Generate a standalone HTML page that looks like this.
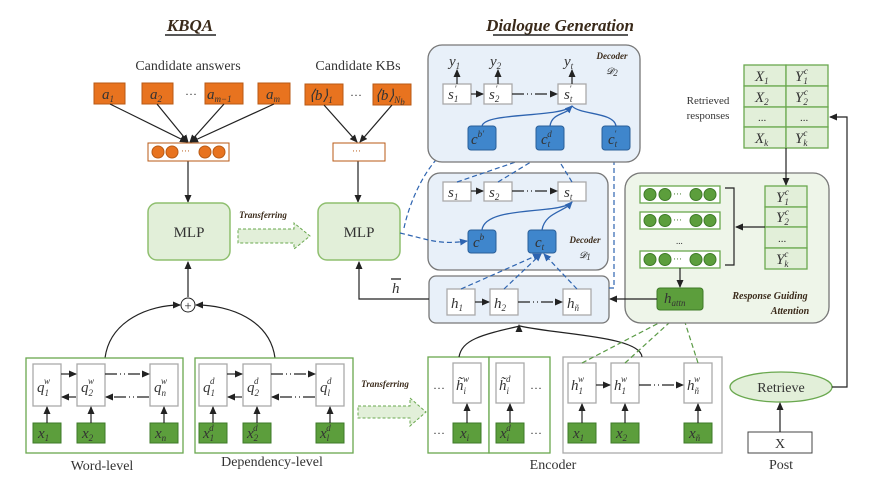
<!DOCTYPE html>
<html><head><meta charset="utf-8"><style>
html,body{margin:0;padding:0;background:#fff;}
svg{display:block;}
text{font-family:"Liberation Serif",serif;}
.m{font-style:italic;fill:#333;font-size:15px;}
.ms{font-style:italic;fill:#333;font-size:9px;}
.bi{font-weight:bold;font-style:italic;fill:#3a2a1a;}
</style></head><body>
<svg width="875" height="496" viewBox="0 0 875 496" xmlns="http://www.w3.org/2000/svg">
<defs>
<marker id="a" markerWidth="8" markerHeight="8" refX="7" refY="4" orient="auto" markerUnits="userSpaceOnUse"><path d="M0,0.5 L8,4 L0,7.5z" fill="#222"/></marker>
<marker id="ab" markerWidth="8" markerHeight="8" refX="7" refY="4" orient="auto" markerUnits="userSpaceOnUse"><path d="M0,0.5 L8,4 L0,7.5z" fill="#2e64b0"/></marker>
<marker id="ag" markerWidth="8" markerHeight="8" refX="7" refY="4" orient="auto" markerUnits="userSpaceOnUse"><path d="M0,0.5 L8,4 L0,7.5z" fill="#5a9a45"/></marker>
</defs>

<text x="190" y="31" text-anchor="middle" class="bi" font-size="17">KBQA</text>
<line x1="165" y1="35" x2="216" y2="35" stroke="#222" stroke-width="1.5"/>
<text x="560" y="31" text-anchor="middle" class="bi" font-size="17">Dialogue Generation</text>
<line x1="493" y1="35" x2="628" y2="35" stroke="#222" stroke-width="1.5"/>

<text x="188" y="70" text-anchor="middle" font-size="14" fill="#333">Candidate answers</text>
<g fill="#e8731f" stroke="#b85a15">
<rect x="94" y="83" width="31" height="21"/><rect x="142" y="83" width="31" height="21"/>
<rect x="205" y="83" width="38" height="21"/><rect x="258" y="83" width="32" height="21"/>
<rect x="305" y="84" width="38" height="21"/><rect x="373" y="84" width="38" height="21"/>
</g>
<text x="102" y="99" class="m">a<tspan class="ms" dy="3">1</tspan></text>
<text x="150" y="99" class="m">a<tspan class="ms" dy="3">2</tspan></text>
<text x="185" y="98" font-size="12" fill="#333">···</text>
<text x="207" y="99" class="m">a<tspan class="ms" dy="3">m−1</tspan></text>
<text x="266" y="99" class="m">a<tspan class="ms" dy="3">m</tspan></text>
<text x="358" y="70" text-anchor="middle" font-size="14" fill="#333">Candidate KBs</text>
<text x="309" y="100" class="m" font-size="14">⟨b⟩<tspan class="ms" dy="3">1</tspan></text>
<text x="350" y="99" font-size="12" fill="#333">···</text>
<text x="375" y="100" class="m" font-size="14">⟨b⟩<tspan class="ms" dy="3">N</tspan><tspan class="ms" font-size="6" dy="2">b</tspan></text>
<g stroke="#222" stroke-width="1.2" marker-end="url(#a)">
<line x1="110" y1="104" x2="187" y2="142"/><line x1="157" y1="104" x2="188" y2="142"/>
<line x1="224" y1="104" x2="190" y2="142"/><line x1="274" y1="104" x2="191" y2="142"/>
<line x1="324" y1="105" x2="357" y2="142"/><line x1="392" y1="105" x2="360" y2="142"/>
<line x1="188" y1="161" x2="188" y2="202"/><line x1="358" y1="161" x2="358" y2="202"/>
<line x1="188" y1="297" x2="188" y2="262"/>
</g>
<rect x="148" y="143" width="81" height="18" fill="#fff" stroke="#b85a15"/>
<g fill="#e8731f" stroke="#b85a15"><circle cx="158" cy="152" r="6"/><circle cx="172" cy="152" r="6"/><circle cx="205" cy="152" r="6"/><circle cx="219" cy="152" r="6"/>
<circle cx="344" cy="152" r="6"/><circle cx="373" cy="152" r="6"/></g>
<text x="181" y="154" font-size="9" fill="#b85a15">···</text>
<rect x="333" y="143" width="52" height="18" fill="#fff" stroke="#b85a15"/>
<text x="352" y="154" font-size="9" fill="#b85a15">···</text>

<rect x="148" y="203" width="82" height="57" rx="9" fill="#e2efd9" stroke="#8fbf6f" stroke-width="1.5"/>
<text x="189" y="237" text-anchor="middle" font-size="15" fill="#333">MLP</text>
<rect x="318" y="203" width="82" height="57" rx="9" fill="#e2efd9" stroke="#8fbf6f" stroke-width="1.5"/>
<text x="359" y="237" text-anchor="middle" font-size="15" fill="#333">MLP</text>
<text x="263" y="218" text-anchor="middle" class="bi" font-size="9" fill="#2a3a6a">Transferring</text>
<path d="M238,229 H294 V223 L310,236 L294,249 V243 H238 Z" fill="#e2efd9" stroke="#6aa84f" stroke-dasharray="3,2"/>

<circle cx="188" cy="305" r="7" fill="#fff" stroke="#222"/>
<text x="188" y="310" text-anchor="middle" font-size="13" fill="#222">+</text>
<path d="M105,358 C110,320 150,305 180,305" fill="none" stroke="#222" stroke-width="1.2" marker-end="url(#a)"/>
<path d="M275,358 C270,320 230,305 196,305" fill="none" stroke="#222" stroke-width="1.2" marker-end="url(#a)"/>

<rect x="26" y="358" width="157" height="95" fill="#fff" stroke="#6aa84f" stroke-width="1.3"/>
<rect x="195" y="358" width="158" height="95" fill="#fff" stroke="#6aa84f" stroke-width="1.3"/>
<g fill="#fff" stroke="#aaa" stroke-width="1.3">
<rect x="33" y="364" width="28" height="42"/><rect x="77" y="364" width="28" height="42"/><rect x="150" y="364" width="28" height="42"/>
<rect x="199" y="364" width="28" height="42"/><rect x="243" y="364" width="28" height="42"/><rect x="316" y="364" width="28" height="42"/>
</g>
<g fill="#5c9e3c" stroke="#3e7a28">
<rect x="33" y="423" width="28" height="20"/><rect x="77" y="423" width="28" height="20"/><rect x="150" y="423" width="28" height="20"/>
<rect x="199" y="423" width="28" height="20"/><rect x="243" y="423" width="28" height="20"/><rect x="316" y="423" width="28" height="20"/>
</g>
<text x="37" y="392" class="m">q<tspan class="ms" dy="4">1</tspan><tspan class="ms" dx="-5" dy="-12">w</tspan></text>
<text x="81" y="392" class="m">q<tspan class="ms" dy="4">2</tspan><tspan class="ms" dx="-5" dy="-12">w</tspan></text>
<text x="154" y="392" class="m">q<tspan class="ms" dy="4">n</tspan><tspan class="ms" dx="-5" dy="-12">w</tspan></text>
<text x="203" y="392" class="m">q<tspan class="ms" dy="4">1</tspan><tspan class="ms" dx="-5" dy="-12">d</tspan></text>
<text x="247" y="392" class="m">q<tspan class="ms" dy="4">2</tspan><tspan class="ms" dx="-5" dy="-12">d</tspan></text>
<text x="320" y="392" class="m">q<tspan class="ms" dy="4">l</tspan><tspan class="ms" dx="-3" dy="-12">d</tspan></text>
<text x="38" y="438" class="m">x<tspan class="ms" dy="3">1</tspan></text>
<text x="82" y="438" class="m">x<tspan class="ms" dy="3">2</tspan></text>
<text x="155" y="438" class="m">x<tspan class="ms" dy="3">n</tspan></text>
<text x="203" y="438" class="m">x<tspan class="ms" dy="3">1</tspan><tspan class="ms" dx="-5" dy="-10">d</tspan></text>
<text x="247" y="438" class="m">x<tspan class="ms" dy="3">2</tspan><tspan class="ms" dx="-5" dy="-10">d</tspan></text>
<text x="320" y="438" class="m">x<tspan class="ms" dy="3">l</tspan><tspan class="ms" dx="-3" dy="-10">d</tspan></text>
<g stroke="#222" stroke-width="1.2" marker-end="url(#a)">
<line x1="61" y1="374" x2="76" y2="374"/><line x1="76" y1="397" x2="62" y2="397"/>
<line x1="105" y1="374" x2="149" y2="374" stroke-dasharray="12,3,1,3,1,3"/><line x1="149" y1="397" x2="106" y2="397" stroke-dasharray="12,3,1,3,1,3"/>
<line x1="227" y1="374" x2="242" y2="374"/><line x1="242" y1="397" x2="228" y2="397"/>
<line x1="271" y1="374" x2="315" y2="374" stroke-dasharray="12,3,1,3,1,3"/><line x1="315" y1="397" x2="272" y2="397" stroke-dasharray="12,3,1,3,1,3"/>
<line x1="47" y1="423" x2="47" y2="407"/><line x1="91" y1="423" x2="91" y2="407"/><line x1="164" y1="423" x2="164" y2="407"/>
<line x1="213" y1="423" x2="213" y2="407"/><line x1="257" y1="423" x2="257" y2="407"/><line x1="330" y1="423" x2="330" y2="407"/>
</g>
<text x="102" y="470" text-anchor="middle" font-size="14" fill="#333">Word-level</text>
<text x="272" y="466" text-anchor="middle" font-size="14" fill="#333">Dependency-level</text>
<text x="385" y="387" text-anchor="middle" class="bi" font-size="9" fill="#2a3a6a">Transferring</text>
<path d="M358,406 H410 V398 L426,412 L410,426 V418 H358 Z" fill="#e2efd9" stroke="#6aa84f" stroke-dasharray="3,2"/>

<rect x="428" y="357" width="61" height="96" fill="#fff" stroke="#6aa84f" stroke-width="1.3"/>
<rect x="489" y="357" width="61" height="96" fill="#fff" stroke="#6aa84f" stroke-width="1.3"/>
<rect x="563" y="357" width="159" height="96" fill="#fff" stroke="#aaa" stroke-width="1.3"/>
<g fill="#fff" stroke="#aaa" stroke-width="1.3">
<rect x="453" y="363" width="28" height="40"/><rect x="496" y="363" width="28" height="40"/>
<rect x="568" y="363" width="28" height="40"/><rect x="611" y="363" width="28" height="40"/><rect x="684" y="363" width="28" height="40"/>
</g>
<g fill="#5c9e3c" stroke="#3e7a28">
<rect x="453" y="423" width="28" height="20"/><rect x="496" y="423" width="28" height="20"/>
<rect x="568" y="423" width="28" height="20"/><rect x="611" y="423" width="28" height="20"/><rect x="684" y="423" width="28" height="20"/>
</g>
<text x="433" y="392" font-size="12" fill="#333">···</text><text x="433" y="437" font-size="12" fill="#333">···</text>
<text x="530" y="392" font-size="12" fill="#333">···</text><text x="530" y="437" font-size="12" fill="#333">···</text>
<text x="456" y="390" class="m">h̃<tspan class="ms" dy="4">i</tspan><tspan class="ms" dx="-3" dy="-12">w</tspan></text>
<text x="499" y="390" class="m">h̃<tspan class="ms" dy="4">i</tspan><tspan class="ms" dx="-3" dy="-12">d</tspan></text>
<text x="571" y="390" class="m">h<tspan class="ms" dy="4">1</tspan><tspan class="ms" dx="-5" dy="-12">w</tspan></text>
<text x="614" y="390" class="m">h<tspan class="ms" dy="4">1</tspan><tspan class="ms" dx="-5" dy="-12">w</tspan></text>
<text x="687" y="390" class="m">h<tspan class="ms" dy="4">ñ</tspan><tspan class="ms" dx="-5" dy="-12">w</tspan></text>
<text x="460" y="438" class="m">x<tspan class="ms" dy="3">i</tspan></text>
<text x="500" y="438" class="m">x<tspan class="ms" dy="3">i</tspan><tspan class="ms" dx="-3" dy="-10">d</tspan></text>
<text x="573" y="438" class="m">x<tspan class="ms" dy="3">1</tspan></text>
<text x="616" y="438" class="m">x<tspan class="ms" dy="3">2</tspan></text>
<text x="689" y="438" class="m">x<tspan class="ms" dy="3">ñ</tspan></text>
<g stroke="#222" stroke-width="1.2" marker-end="url(#a)">
<line x1="467" y1="423" x2="467" y2="404"/><line x1="510" y1="423" x2="510" y2="404"/>
<line x1="582" y1="423" x2="582" y2="404"/><line x1="625" y1="423" x2="625" y2="404"/><line x1="698" y1="423" x2="698" y2="404"/>
<line x1="596" y1="385" x2="610" y2="385"/><line x1="639" y1="385" x2="683" y2="385" stroke-dasharray="12,3,1,3,1,3"/>
</g>
<text x="553" y="469" text-anchor="middle" font-size="14" fill="#333">Encoder</text>
<path d="M459,357 C462,340 480,335 520,326 C560,335 640,336 642,357" fill="none" stroke="#222" stroke-width="1.2"/>
<path d="M519,332 L519,325" stroke="#222" marker-end="url(#a)"/>
<g stroke="#5a9a45" stroke-width="1.2" stroke-dasharray="5,3" fill="none">
<line x1="582" y1="363" x2="678" y2="313" marker-end="url(#ag)"/>
<line x1="625" y1="363" x2="680" y2="313" marker-end="url(#ag)"/>
<line x1="698" y1="363" x2="682" y2="313" marker-end="url(#ag)"/>
</g>

<ellipse cx="781" cy="387" rx="51" ry="15" fill="#e2efd9" stroke="#6aa84f" stroke-width="1.3"/>
<text x="781" y="392" text-anchor="middle" font-size="14" fill="#333">Retrieve</text>
<rect x="748" y="432" width="64" height="21" fill="#fff" stroke="#444"/>
<text x="780" y="448" text-anchor="middle" font-size="14" fill="#333">X</text>
<text x="781" y="469" text-anchor="middle" font-size="14" fill="#333">Post</text>
<line x1="780" y1="432" x2="780" y2="403" stroke="#222" stroke-width="1.2" marker-end="url(#a)"/>
<path d="M832,387 H847 V117 H830" fill="none" stroke="#222" stroke-width="1.2" marker-end="url(#a)"/>

<text x="708" y="104" text-anchor="middle" font-size="11" fill="#333">Retrieved</text>
<text x="708" y="119" text-anchor="middle" font-size="11" fill="#333">responses</text>
<g fill="#e2efd9" stroke="#6aa84f" stroke-width="1.3">
<rect x="744" y="65" width="42" height="21"/><rect x="786" y="65" width="42" height="21"/>
<rect x="744" y="86" width="42" height="21"/><rect x="786" y="86" width="42" height="21"/>
<rect x="744" y="107" width="42" height="20"/><rect x="786" y="107" width="42" height="20"/>
<rect x="744" y="127" width="42" height="21"/><rect x="786" y="127" width="42" height="21"/>
</g>
<text x="755" y="81" class="m">X<tspan class="ms" dy="3">1</tspan></text><text x="795" y="81" class="m">Y<tspan class="ms" dy="3">1</tspan><tspan class="ms" dx="-4" dy="-10">c</tspan></text>
<text x="755" y="102" class="m">X<tspan class="ms" dy="3">2</tspan></text><text x="795" y="102" class="m">Y<tspan class="ms" dy="3">2</tspan><tspan class="ms" dx="-4" dy="-10">c</tspan></text>
<text x="758" y="121" font-size="11" fill="#333">...</text><text x="800" y="121" font-size="11" fill="#333">...</text>
<text x="755" y="143" class="m">X<tspan class="ms" dy="3">k</tspan></text><text x="795" y="143" class="m">Y<tspan class="ms" dy="3">k</tspan><tspan class="ms" dx="-4" dy="-10">c</tspan></text>

<rect x="625" y="173" width="204" height="150" rx="16" fill="#eef5e9" stroke="#777" stroke-width="1.3"/>
<line x1="786" y1="148" x2="786" y2="185" stroke="#222" stroke-width="1.2" marker-end="url(#a)"/>
<g fill="#e2efd9" stroke="#6aa84f" stroke-width="1.3">
<rect x="765" y="186" width="42" height="21"/><rect x="765" y="207" width="42" height="20"/>
<rect x="765" y="227" width="42" height="21"/><rect x="765" y="248" width="42" height="21"/>
<rect x="640" y="186" width="80" height="17" fill="#fff"/><rect x="640" y="212" width="80" height="17" fill="#fff"/><rect x="640" y="251" width="80" height="17" fill="#fff"/>
</g>
<text x="776" y="202" class="m">Y<tspan class="ms" dy="3">1</tspan><tspan class="ms" dx="-4" dy="-10">c</tspan></text>
<text x="776" y="222" class="m">Y<tspan class="ms" dy="3">2</tspan><tspan class="ms" dx="-4" dy="-10">c</tspan></text>
<text x="778" y="242" font-size="11" fill="#333">...</text>
<text x="776" y="264" class="m">Y<tspan class="ms" dy="3">k</tspan><tspan class="ms" dx="-4" dy="-10">c</tspan></text>
<g fill="#5c9e3c" stroke="#3e7a28">
<circle cx="650" cy="194.5" r="6"/><circle cx="665" cy="194.5" r="6"/><circle cx="696" cy="194.5" r="6"/><circle cx="710" cy="194.5" r="6"/>
<circle cx="650" cy="220.5" r="6"/><circle cx="665" cy="220.5" r="6"/><circle cx="696" cy="220.5" r="6"/><circle cx="710" cy="220.5" r="6"/>
<circle cx="650" cy="259.5" r="6"/><circle cx="665" cy="259.5" r="6"/><circle cx="696" cy="259.5" r="6"/><circle cx="710" cy="259.5" r="6"/>
</g>
<text x="673" y="197" font-size="9" fill="#3e7a28">···</text><text x="673" y="223" font-size="9" fill="#3e7a28">···</text><text x="673" y="262" font-size="9" fill="#3e7a28">···</text>
<text x="676" y="244" font-size="9" fill="#333">...</text>
<path d="M725,188 H734 V265 H725" fill="none" stroke="#222" stroke-width="1.2"/>
<line x1="765" y1="227" x2="736" y2="227" stroke="#222" stroke-width="1.2" marker-end="url(#a)"/>
<line x1="680" y1="268" x2="680" y2="287" stroke="#222" stroke-width="1.2" marker-end="url(#a)"/>
<rect x="657" y="288" width="46" height="22" rx="3" fill="#5c9e3c" stroke="#3e7a28"/>
<text x="664" y="303" class="m">h<tspan class="ms" dy="3">attn</tspan></text>
<text x="770" y="299" text-anchor="middle" class="bi" font-size="10">Response Guiding</text>
<text x="790" y="314" text-anchor="middle" class="bi" font-size="10">Attention</text>
<line x1="657" y1="299" x2="610" y2="299" stroke="#222" stroke-width="1.2" marker-end="url(#a)"/>

<rect x="429" y="276" width="180" height="47" rx="7" fill="#e8f0f9" stroke="#777" stroke-width="1.3"/>
<g fill="#fff" stroke="#aaa" stroke-width="1.3">
<rect x="447" y="289" width="28" height="26"/><rect x="490" y="289" width="28" height="26"/><rect x="563" y="289" width="28" height="26"/>
</g>
<text x="451" y="308" class="m">h<tspan class="ms" dy="3">1</tspan></text>
<text x="494" y="308" class="m">h<tspan class="ms" dy="3">2</tspan></text>
<text x="567" y="308" class="m">h<tspan class="ms" dy="3">ñ</tspan></text>
<g stroke="#222" stroke-width="1.2" marker-end="url(#a)">
<line x1="475" y1="302" x2="489" y2="302"/><line x1="518" y1="302" x2="562" y2="302" stroke-dasharray="12,3,1,3,1,3"/>
</g>
<path d="M429,299 H359 V262" fill="none" stroke="#222" stroke-width="1.2" marker-end="url(#a)"/>
<text x="392" y="293" class="m">h</text><line x1="391" y1="279" x2="401" y2="279" stroke="#222" stroke-width="1.3"/>

<rect x="428" y="173" width="180" height="97" rx="12" fill="#e8f0f9" stroke="#777" stroke-width="1.3"/>
<g fill="#fff" stroke="#aaa" stroke-width="1.3">
<rect x="443" y="182" width="28" height="19"/><rect x="484" y="182" width="28" height="19"/><rect x="558" y="182" width="28" height="19"/>
</g>
<text x="448" y="197" class="m">s<tspan class="ms" dy="3">1</tspan></text>
<text x="489" y="197" class="m">s<tspan class="ms" dy="3">2</tspan></text>
<text x="564" y="197" class="m">s<tspan class="ms" dy="3">t</tspan></text>
<g stroke="#222" stroke-width="1.2" marker-end="url(#a)">
<line x1="471" y1="191" x2="483" y2="191"/><line x1="512" y1="191" x2="557" y2="191" stroke-dasharray="12,3,1,3,1,3"/>
</g>
<rect x="468" y="230" width="28" height="23" rx="3" fill="#3f86cc" stroke="#2a5f99"/>
<rect x="528" y="230" width="28" height="23" rx="3" fill="#3f86cc" stroke="#2a5f99"/>
<text x="473" y="247" class="m">c<tspan class="ms" dy="-7">b</tspan></text>
<text x="535" y="247" class="m">c<tspan class="ms" dy="3">t</tspan></text>
<text x="585" y="243" text-anchor="middle" class="bi" font-size="9">Decoder</text>
<text x="585" y="258" text-anchor="middle" class="ms" font-size="10">𝓓<tspan dy="2">1</tspan></text>
<g stroke="#2e64b0" stroke-width="1.3" fill="none">
<path d="M482,230 C485,205 560,215 572,202" marker-end="url(#ab)"/>
<path d="M542,230 C545,212 565,212 572,202"/>
</g>
<g stroke="#2e64b0" stroke-width="1.2" fill="none" stroke-dasharray="5,3">
<line x1="461" y1="289" x2="540" y2="254" marker-end="url(#ab)"/>
<line x1="504" y1="289" x2="541" y2="254" marker-end="url(#ab)"/>
<line x1="577" y1="289" x2="544" y2="254" marker-end="url(#ab)"/>
<line x1="457" y1="182" x2="548" y2="151" marker-end="url(#ab)"/>
<line x1="498" y1="182" x2="549" y2="151" marker-end="url(#ab)"/>
<line x1="572" y1="182" x2="553" y2="151" marker-end="url(#ab)"/>
<path d="M609,288 H614 V151" marker-end="url(#ab)"/>
<path d="M400,233 C430,240 440,245 467,241" marker-end="url(#ab)"/>
<path d="M404,228 C410,200 430,150 467,138" marker-end="url(#ab)"/>
</g>

<rect x="428" y="45" width="212" height="117" rx="14" fill="#e8f0f9" stroke="#777" stroke-width="1.3"/>
<g fill="#fff" stroke="#aaa" stroke-width="1.3">
<rect x="443" y="84" width="28" height="20"/><rect x="484" y="84" width="28" height="20"/><rect x="558" y="84" width="28" height="20"/>
</g>
<text x="448" y="99" class="m">s<tspan class="ms" dy="3">1</tspan><tspan class="ms" dx="-4" dy="-10">′</tspan></text>
<text x="489" y="99" class="m">s<tspan class="ms" dy="3">2</tspan><tspan class="ms" dx="-4" dy="-10">′</tspan></text>
<text x="564" y="99" class="m">s<tspan class="ms" dy="3">t</tspan><tspan class="ms" dx="-3" dy="-10">′</tspan></text>
<g stroke="#222" stroke-width="1.2" marker-end="url(#a)">
<line x1="471" y1="94" x2="483" y2="94"/><line x1="512" y1="94" x2="557" y2="94" stroke-dasharray="12,3,1,3,1,3"/>
<line x1="457" y1="84" x2="457" y2="70"/><line x1="498" y1="84" x2="498" y2="70"/><line x1="572" y1="84" x2="572" y2="70"/>
</g>
<text x="449" y="66" class="m">y<tspan class="ms" dy="3">1</tspan></text>
<text x="490" y="66" class="m">y<tspan class="ms" dy="3">2</tspan></text>
<text x="564" y="66" class="m">y<tspan class="ms" dy="3">t</tspan></text>
<text x="612" y="59" text-anchor="middle" class="bi" font-size="9">Decoder</text>
<text x="612" y="74" text-anchor="middle" class="ms" font-size="10">𝓓<tspan dy="2">2</tspan></text>
<rect x="468" y="126" width="28" height="24" rx="3" fill="#3f86cc" stroke="#2a5f99"/>
<rect x="536" y="126" width="28" height="24" rx="3" fill="#3f86cc" stroke="#2a5f99"/>
<rect x="602" y="126" width="28" height="24" rx="3" fill="#3f86cc" stroke="#2a5f99"/>
<text x="471" y="144" class="m">c<tspan class="ms" dy="-7">b′</tspan></text>
<text x="541" y="144" class="m">c<tspan class="ms" dy="3">t</tspan><tspan class="ms" dx="-3" dy="-10">d</tspan></text>
<text x="608" y="144" class="m">c<tspan class="ms" dy="3">t</tspan><tspan class="ms" dx="-3" dy="-10">′</tspan></text>
<g stroke="#2e64b0" stroke-width="1.3" fill="none">
<path d="M482,126 C485,112 560,118 572,106" marker-end="url(#ab)"/>
<path d="M550,126 C552,112 568,115 572,106"/>
<path d="M616,126 C614,112 580,115 572,106"/>
</g>
</svg>
</body></html>
